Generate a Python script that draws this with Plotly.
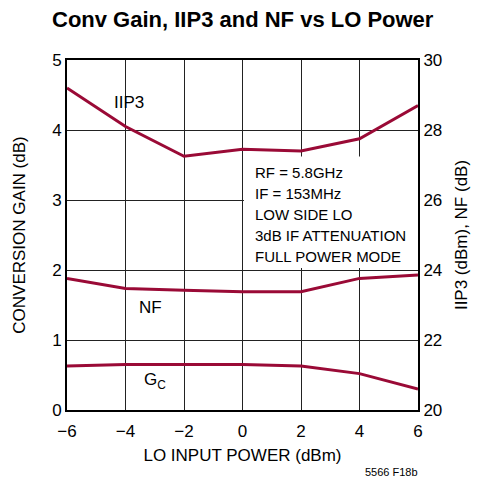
import plotly.graph_objects as go

# LO input power sweep (dBm)
lo_power = [-6, -4, -2, 0, 2, 4, 6]
# Conversion gain (dB), left axis
gain_db = [0.63, 0.65, 0.65, 0.65, 0.63, 0.52, 0.30]
# IIP3 (dBm) and NF (dB), right axis
iip3_dbm = [29.2, 28.1, 27.25, 27.45, 27.4, 27.75, 28.7]
nf_db = [23.76, 23.47, 23.42, 23.38, 23.38, 23.76, 23.86]

x_ticks = [-6, -4, -2, 0, 2, 4, 6]
x_tick_text = ["\u22126", "\u22124", "\u22122", "0", "2", "4", "6"]

conditions = ["RF = 5.8GHz", "IF = 153MHz", "LOW SIDE LO",
              "3dB IF ATTENUATION", "FULL POWER MODE"]

LINE = "#9a0a36"
FONT = "Liberation Sans, Arial"

fig = go.Figure()
fig.add_trace(go.Scatter(x=lo_power, y=gain_db, mode="lines",
                         line=dict(color=LINE, width=3), yaxis="y"))
fig.add_trace(go.Scatter(x=lo_power, y=iip3_dbm, mode="lines",
                         line=dict(color=LINE, width=3), yaxis="y2"))
fig.add_trace(go.Scatter(x=lo_power, y=nf_db, mode="lines",
                         line=dict(color=LINE, width=3), yaxis="y2"))

W, H = 477, 478
L, R, T, B = 67, 59, 60, 68

fig.update_layout(
    width=W, height=H,
    margin=dict(l=L, r=R, t=T, b=B, autoexpand=False),
    paper_bgcolor="white", plot_bgcolor="white",
    showlegend=False,
    font=dict(family=FONT, size=17, color="black"),
    xaxis=dict(range=[-6, 6], tickvals=x_ticks, ticktext=x_tick_text,
               showgrid=True, gridcolor="#222", gridwidth=1,
               showline=True, linecolor="black", linewidth=2, mirror=True,
               zeroline=False, ticks="", ticklen=0, ticklabelstandoff=5,
               automargin=False,
               title=dict(text="LO INPUT POWER (dBm)", standoff=9,
                          font=dict(size=17))),
    yaxis=dict(range=[0, 5], dtick=1,
               showgrid=True, gridcolor="#222", gridwidth=1,
               showline=True, linecolor="black", linewidth=2,
               zeroline=False, ticks="", ticklen=0, automargin=False,
               title=dict(text="CONVERSION GAIN (dB)", standoff=22,
                          font=dict(size=17))),
    yaxis2=dict(range=[20, 30], dtick=2, overlaying="y", side="right",
                showgrid=False, showline=True, linecolor="black", linewidth=2,
                zeroline=False, ticks="", ticklen=0, automargin=False,
                title=dict(text="IIP3 (dBm), NF (dB)", standoff=14,
                           font=dict(size=17))),
)

# white panel behind the test-condition notes
fig.add_shape(type="rect", xref="x", yref="y", x0=0.05, x1=6, y0=2.03, y1=3.62,
              fillcolor="white", line=dict(width=0), layer="between")

for i, line in enumerate(conditions):
    fig.add_annotation(x=0.35, y=3.39 - i * 0.3, xref="x", yref="y",
                       text=line, showarrow=False, xanchor="left",
                       font=dict(size=15))

fig.add_annotation(x=-3.88, y=4.4, xref="x", yref="y", text="IIP3",
                   showarrow=False, font=dict(size=17))
fig.add_annotation(x=-3.13, y=1.46, xref="x", yref="y", text="NF",
                   showarrow=False, font=dict(size=17))
fig.add_annotation(x=-3.0, y=0.41, xref="x", yref="y",
                   text="G<sub>C</sub>", showarrow=False, font=dict(size=17))

fig.add_annotation(x=0.5, y=1, xref="paper", yref="paper", yshift=41,
                   text="<b>Conv Gain, IIP3 and NF vs LO Power</b>",
                   showarrow=False, yanchor="middle",
                   font=dict(size=22))
fig.add_annotation(x=1, y=0, xref="paper", yref="paper", yshift=-70,
                   xshift=2, text="5566 F18b", showarrow=False,
                   xanchor="right", font=dict(size=11))

fig.write_html("out.html")
